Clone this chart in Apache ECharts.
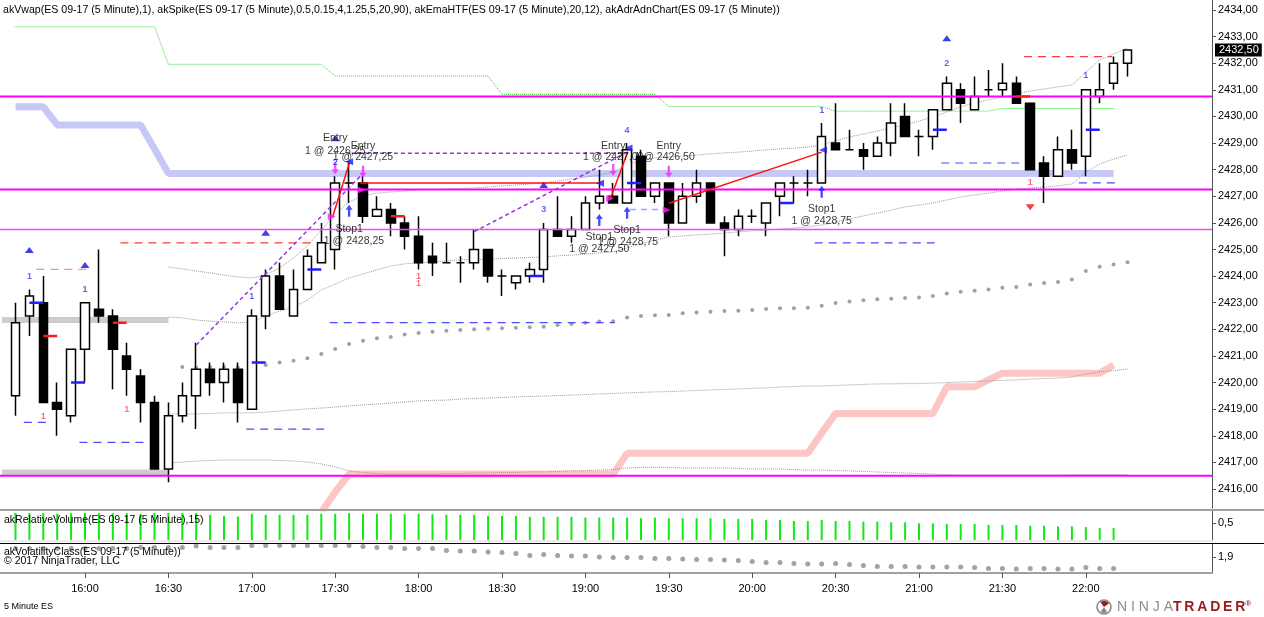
<!DOCTYPE html>
<html>
<head>
<meta charset="utf-8">
<script src="https://cdn.jsdelivr.net/npm/echarts@6.0.0/dist/echarts.min.js"></script>
<style>
html,body{margin:0;padding:0;background:#fff;overflow:hidden}
#chart{width:1264px;height:617px}
</style>
</head>
<body>
<div id="chart"></div>
<script>
// ================= DATA =================
const tickIndex  = [5,11,17,23,29,35,41,47,53,59,65,71,77];
const tickLabels = ['16:00','16:30','17:00','17:30','18:00','18:30','19:00','19:30','20:00','20:30','21:00','21:30','22:00'];
const priceTicks = [2416,2417,2418,2419,2420,2421,2422,2423,2424,2425,2426,2427,2428,2429,2430,2431,2432,2433,2434];

// 5-minute bars 15:35 .. 22:15
const opens = [2419.5,2422.5,2423,2419.25,2418.75,2421.25,2422.75,2422.5,2421,2420.25,
2419.25,2416.75,2418.75,2419.5,2420.5,2420,2420.5,2419,2422.5,2424,
2422.5,2423.5,2424.5,2425,2427.5,2427.5,2426.25,2426.5,2426,2425.5,
2424.75,2424.5,2424.5,2424.5,2425,2424,2423.75,2424,2424.25,2425.75,
2425.5,2425.75,2426.75,2427,2426.75,2428.5,2427,2427.5,2426,2427,
2427.5,2426,2425.75,2426.25,2426,2427,2427.5,2427.5,2427.5,2429,
2428.75,2428.75,2428.5,2429,2430,2429.25,2429.25,2430.25,2431,2430.25,
2431,2431,2431.25,2430.5,2428.25,2427.75,2428.75,2428.5,2430.75,2431.25,
2432];
const closes = [2422.25,2423.25,2419.25,2419,2421.25,2423,2422.5,2421.25,2420.5,2419.25,
2416.75,2418.75,2419.5,2420.5,2420,2420.5,2419.25,2422.5,2424,2422.75,
2423.5,2424.75,2425.25,2427.5,2427.5,2426.25,2426.5,2426,2425.5,2424.5,
2424.5,2424.5,2424.5,2425,2424,2424,2424,2424.25,2425.75,2425.5,
2425.75,2426.75,2427,2426.75,2428.75,2427,2427.5,2426,2427,2427.5,
2426,2425.75,2426.25,2426.25,2426.75,2427.5,2427.5,2427.5,2429.25,2428.75,
2428.75,2428.5,2429,2429.75,2429.25,2429.25,2430.25,2431.25,2430.5,2430.75,
2431,2431.25,2430.5,2428,2427.75,2428.75,2428.25,2431,2431,2432,
2432.5];
const lows = [2418.75,2421.75,2419.25,2418,2418.5,2420,2422.25,2419.75,2419.5,2418.5,
2416.75,2416.25,2418.5,2418.25,2419.5,2419.25,2418.5,2419,2422,2422.75,
2422.5,2423.5,2424.5,2424.25,2426.75,2426,2426.25,2425.5,2425,2424.25,
2424,2424.5,2423.75,2424.25,2423.75,2423.25,2423.5,2423.75,2423.75,2425.5,
2425.25,2425.75,2426.5,2426.75,2426.75,2427,2426.75,2425.5,2426,2426.75,
2426,2424.75,2425.5,2426,2425.5,2426.25,2426.75,2427,2427.5,2428.75,
2428.75,2428,2428.5,2428.5,2429.25,2428.5,2428.75,2430.25,2429.75,2430.25,
2430.75,2430.75,2430.5,2428,2426.75,2427.75,2428,2427.75,2430.5,2431,
2431.5];
const highs = [2423,2423.5,2424,2420,2421.25,2423,2425,2422.75,2421.5,2420.5,
2419.5,2419.25,2420,2421.5,2420.75,2420.75,2420.75,2422.75,2424.25,2424.5,
2424.25,2425,2426,2427.75,2428.25,2427.75,2427,2426.75,2426.25,2426.25,
2425.25,2425.25,2424.75,2425.75,2425,2424.25,2424,2424.5,2426,2427,
2426.25,2427,2428,2427.5,2429,2428.75,2427.5,2427.5,2427.5,2428,
2427.5,2426.25,2426.5,2426.5,2426.75,2427.5,2427.75,2428,2429.75,2430.5,
2429.5,2429,2429.25,2430.5,2430.5,2429.5,2430.25,2431.5,2431.25,2431.5,
2431.75,2432,2431.5,2430.5,2428.5,2429.25,2429.5,2431,2432,2432.25,
2432.5];

// VWAP (dots) from bar 12, std bands from bar 11
const vwapStart = 12;
const vwap = [2420.58,2420.56,2420.58,2420.58,2420.57,2420.56,2420.66,2420.75,2420.82,2420.91,
2421.07,2421.26,2421.45,2421.57,2421.66,2421.71,2421.81,2421.86,2421.91,2421.95,
2421.97,2422.00,2422.02,2422.04,2422.06,2422.08,2422.10,2422.16,2422.20,2422.25,
2422.29,2422.30,2422.44,2422.50,2422.53,2422.54,2422.60,2422.63,2422.66,2422.69,
2422.70,2422.73,2422.76,2422.79,2422.79,2422.81,2422.89,2422.99,2423.05,2423.09,
2423.13,2423.15,2423.18,2423.20,2423.25,2423.35,2423.41,2423.45,2423.50,2423.56,
2423.59,2423.68,2423.74,2423.78,2423.87,2424.19,2424.35,2424.44,2424.52];
const bandStart = 11;
const upper2 = [2424.34,2424.27,2424.19,2424.12,2424.04,2423.97,2423.93,2424.04,2424.31,2424.68,
2425.13,2425.73,2426.33,2426.79,2427.01,2427.12,2427.16,2427.20,2427.24,2427.25,
2427.27,2427.29,2427.31,2427.35,2427.39,2427.42,2427.46,2427.50,2427.57,2427.65,
2427.72,2427.80,2427.91,2428.18,2428.36,2428.44,2428.48,2428.51,2428.55,2428.59,
2428.63,2428.66,2428.70,2428.74,2428.78,2428.81,2428.85,2428.93,2429.08,2429.23,
2429.34,2429.45,2429.57,2429.68,2429.83,2429.98,2430.17,2430.36,2430.51,2430.62,
2430.73,2430.84,2430.96,2431.03,2431.11,2431.18,2431.67,2432.12,2432.35,2432.57];
const upper1 = [2422.46,2422.43,2422.35,2422.31,2422.28,2422.24,2422.28,2422.50,2422.69,2422.84,
2423.10,2423.48,2423.70,2423.93,2424.08,2424.23,2424.38,2424.46,2424.49,2424.53,
2424.57,2424.61,2424.62,2424.64,2424.66,2424.68,2424.70,2424.72,2424.76,2424.79,
2424.83,2424.87,2424.91,2425.06,2425.21,2425.36,2425.47,2425.51,2425.55,2425.58,
2425.62,2425.66,2425.70,2425.73,2425.77,2425.81,2425.85,2425.92,2426.03,2426.15,
2426.26,2426.37,2426.48,2426.60,2426.67,2426.75,2426.86,2426.97,2427.05,2427.12,
2427.20,2427.27,2427.31,2427.35,2427.39,2427.46,2427.91,2428.21,2428.40,2428.55];
const lower1 = [2418.82,2418.82,2418.82,2418.84,2418.86,2418.86,2418.86,2418.89,2418.93,2418.97,
2419.01,2419.04,2419.08,2419.12,2419.16,2419.19,2419.23,2419.27,2419.31,2419.33,
2419.34,2419.38,2419.40,2419.42,2419.44,2419.46,2419.48,2419.49,2419.51,2419.53,
2419.55,2419.57,2419.59,2419.61,2419.63,2419.65,2419.66,2419.68,2419.70,2419.72,
2419.74,2419.76,2419.78,2419.80,2419.83,2419.85,2419.87,2419.87,2419.89,2419.91,
2419.93,2419.95,2419.95,2419.96,2419.96,2419.98,2420.00,2420.02,2420.04,2420.06,
2420.08,2420.10,2420.13,2420.15,2420.17,2420.21,2420.32,2420.40,2420.45,2420.51];
const lower2 = [2416.98,2417.01,2417.05,2417.07,2417.09,2417.09,2417.09,2417.09,2417.07,2417.05,
2417.01,2416.94,2416.83,2416.68,2416.62,2416.58,2416.56,2416.56,2416.56,2416.56,
2416.58,2416.58,2416.60,2416.60,2416.62,2416.62,2416.64,2416.64,2416.66,2416.68,
2416.69,2416.71,2416.73,2416.79,2416.81,2416.81,2416.81,2416.79,2416.79,2416.79,
2416.79,2416.77,2416.75,2416.75,2416.75,2416.73,2416.71,2416.71,2416.69,2416.68,
2416.66,2416.64,2416.62,2416.60,2416.58,2416.56,2416.54,2416.53,2416.53,2416.53,
2416.53,2416.53,2416.53,2416.53,2416.53,2416.54,2416.54,2416.54,2416.54,2416.54];

// higher-timeframe EMAs (bars 0..79)
const emaGreen = [2433.37,2433.37,2433.37,2433.37,2433.37,2433.37,2433.37,2433.37,2433.37,2433.37,
2433.37,2431.96,2431.96,2431.96,2431.96,2431.96,2431.96,2431.96,2431.96,2431.96,
2431.96,2431.96,2431.96,2431.52,2431.52,2431.52,2431.52,2431.52,2431.52,2431.52,
2431.52,2431.52,2431.52,2431.52,2431.52,2430.83,2430.83,2430.83,2430.83,2430.83,
2430.83,2430.83,2430.83,2430.83,2430.83,2430.83,2430.83,2430.37,2430.37,2430.37,
2430.37,2430.37,2430.37,2430.37,2430.37,2430.37,2430.37,2430.37,2430.37,2430.20,
2430.20,2430.20,2430.20,2430.20,2430.20,2430.20,2430.20,2430.20,2430.20,2430.20,
2430.20,2430.30,2430.30,2430.30,2430.30,2430.30,2430.30,2430.30,2430.30,2430.30];
const emaBlue = [2430.36,2430.36,2430.36,2429.68,2429.68,2429.68,2429.68,2429.68,2429.68,2429.68,
2428.78,2427.86,2427.86,2427.86,2427.86,2427.86,2427.86,2427.86,2427.86,2427.86,
2427.86,2427.86,2427.86,2427.86,2427.86,2427.86,2427.86,2427.86,2427.86,2427.86,
2427.86,2427.86,2427.86,2427.86,2427.86,2427.86,2427.86,2427.86,2427.86,2427.86,
2427.86,2427.86,2427.86,2427.86,2427.86,2427.86,2427.86,2427.86,2427.86,2427.86,
2427.86,2427.86,2427.86,2427.86,2427.86,2427.86,2427.86,2427.86,2427.86,2427.86,
2427.86,2427.86,2427.86,2427.86,2427.86,2427.86,2427.86,2427.86,2427.86,2427.86,
2427.86,2427.86,2427.86,2427.86,2427.86,2427.86,2427.86,2427.86,2427.86,2427.86];
// ADR lower line (bars 22..79)
const adrStart = 22;
const adrLow = [2415.13,2415.89,2416.56,2416.56,2416.56,2416.56,2416.56,2416.56,2416.56,2416.56,
2416.56,2416.56,2416.56,2416.56,2416.56,2416.56,2416.56,2416.56,2416.56,2416.56,
2416.56,2416.56,2417.34,2417.34,2417.34,2417.34,2417.34,2417.34,2417.34,2417.34,
2417.34,2417.34,2417.34,2417.34,2417.34,2417.34,2418.10,2418.84,2418.84,2418.84,
2418.84,2418.84,2418.84,2418.84,2418.84,2419.84,2419.84,2419.84,2420.10,2420.35,
2420.35,2420.35,2420.35,2420.35,2420.35,2420.35,2420.35,2420.66];
// prior-session levels (gray bands), horizontal levels (magenta)
const priorLevels = [2422.35, 2416.62];
const priorSpan = [-0.97, 11];
const levelLines = [2430.75, 2427.25, 2425.75, 2416.5];
const levelWidths = [2, 2, 1.5, 2];

// dashed target/stop segments: [fromBar, toBar, price]
const redDashes  = [[1.5,5.4,2424.25],[7.55,21.4,2425.25],[72.55,78.9,2432.25]];
const blueDashes = [[0.6,2.35,2418.5],[4.6,9.4,2417.75],[16.6,22.4,2418.25],[22.6,43.1,2422.25],[57.5,66.3,2425.25],[66.6,72.3,2428.25],[76.5,79.2,2427.5]];
const lilacDashes = [[44.2,46.5,2426.5]];
// short solid marks: [fromBar, toBar, price]
const blueMarks = [[1,2,2423.0],[4,5,2420.0],[17,18,2420.75],[21,22,2424.25],[37,38,2424.0],[44,45,2427.5],[55,56,2426.75],[66,67,2429.5],[77,78,2429.5]];
const redMarks  = [[2,3,2421.75],[7,8,2422.25],[27,28,2426.25],[72,73,2430.75]];
// signal markers
const upTriangles   = [[1,2424.98],[5,2424.42],[18,2425.63],[23,2429.18],[38,2427.42],[67,2432.94]];
const downTriangles = [[73,2426.59]];
const blueCounts = [[1,2424.0,'1'],[5,2423.5,'1'],[17,2423.25,'1'],[23,2428.26,'2'],[38,2426.49,'3'],[44,2429.49,'4'],[58,2430.24,'1'],[67,2432.0,'2'],[77,2431.52,'1']];
const redCounts  = [[2,2418.74,'1'],[8,2418.99,'1'],[29,2423.98,'1'],[29,2423.73,'1'],[73,2427.51,'1']];
// trades
const entryArrows = [[23,2428.05],[25,2427.92],[43,2427.99],[47,2427.92]];
const stopArrows  = [[24,2426.46],[42,2426.11],[44,2426.38],[58,2427.17]];
const fillRight   = [[22.75,2426.23],[24.9,2427.24],[42.77,2426.92],[46.85,2426.48]];
const fillLeft    = [[24,2428.3],[42.05,2427.49],[44.1,2428.81],[58.1,2428.74]];
const tradeLines  = [[[22.8,2426.2],[24.05,2428.3]],[[24.8,2427.5],[42.0,2427.5]],[[42.8,2426.92],[44.05,2428.67]],[[47.0,2426.74],[58.0,2428.66]]];
const swingLines  = [[[13,2421.41],[25,2427.86]],[[24.2,2428.62],[44.0,2428.62]],[[33,2425.67],[44.0,2428.66]]];
const tradeTexts = [
  [23,2429.19,'Entry'],[23,2428.70,'1 @ 2426,25'],
  [25,2428.89,'Entry'],[25,2428.48,'1 @ 2427,25'],
  [24,2425.77,'Stop1'],[24.35,2425.32,'1 @ 2428,25'],
  [43,2428.89,'Entry'],[43,2428.48,'1 @ 2427,00'],
  [47,2428.89,'Entry'],[46.7,2428.48,'1 @ 2426,50'],
  [42,2425.47,'Stop1'],[42,2425.02,'1 @ 2427,50'],
  [44,2425.73,'Stop1'],[44.06,2425.28,'1 @ 2428,75'],
  [58,2426.52,'Stop1'],[58,2426.07,'1 @ 2428,75']
];
// lower panels (bars 0..79)
const relVol = [0.80,0.79,0.79,0.77,0.79,0.79,0.79,0.79,0.79,0.77,
0.79,0.79,0.79,0.79,0.74,0.71,0.69,0.77,0.74,0.74,
0.74,0.74,0.77,0.77,0.79,0.77,0.77,0.77,0.76,0.77,
0.76,0.74,0.74,0.74,0.71,0.71,0.71,0.68,0.68,0.68,
0.68,0.66,0.66,0.66,0.66,0.64,0.66,0.64,0.64,0.64,
0.64,0.62,0.62,0.62,0.59,0.59,0.56,0.56,0.59,0.56,
0.56,0.54,0.54,0.52,0.52,0.49,0.49,0.47,0.47,0.47,
0.44,0.44,0.44,0.42,0.42,0.40,0.40,0.38,0.35,0.35];
const volClass = [2.33,2.33,2.33,2.33,2.33,2.33,2.33,2.33,2.33,2.37,
2.37,2.38,2.38,2.45,2.38,2.38,2.38,2.47,2.47,2.47,
2.47,2.47,2.47,2.47,2.47,2.42,2.38,2.38,2.33,2.33,
2.33,2.22,2.20,2.20,2.15,2.12,2.07,1.98,2.03,1.98,
1.95,1.95,1.90,1.87,1.87,1.87,1.83,1.83,1.80,1.78,
1.78,1.75,1.72,1.67,1.63,1.62,1.58,1.55,1.55,1.57,
1.52,1.47,1.43,1.43,1.43,1.40,1.40,1.40,1.40,1.37,
1.33,1.33,1.30,1.33,1.33,1.30,1.30,1.38,1.33,1.33];

// ================= CHART =================
const FONT = '"Liberation Sans", Arial, sans-serif';
const XMIN = -1.115, XMAX = XMIN + 1212 / 13.9;
const YMAX = 2434.376, YMIN = 2434.376 - 508 / 26.61;
const lastClose = closes[closes.length - 1];
const comma = (v, d) => v.toFixed(d).replace('.', ',');
const series = [];
const idx = (arr, start) => arr.map((v, k) => [start + k, v]);
function line(points, style, z, xi, yi) {
  series.push({type:'line', xAxisIndex: xi || 0, yAxisIndex: yi || 0, data: points, symbol:'none',
    lineStyle: style, z: z, silent: true, clip: true, connectNulls: false});
}
function scatter(points, opt, z) {
  series.push(Object.assign({type:'scatter', xAxisIndex:0, yAxisIndex:0, data: points, silent:true, z: z}, opt));
}

// background bands
priorLevels.forEach(v => line([[priorSpan[0], v], [priorSpan[1], v]], {color:'#cdcdcd', width:6}, 1));
line(idx(emaBlue, 0), {color:'#c8c8f6', width:7}, 1);
line(idx(adrLow, adrStart), {color:'#fdc6c6', width:7}, 1);
line(idx(emaGreen, 0), {color:'#2ee02e', width:1, type:'dotted'}, 2);
[upper2, upper1, lower1, lower2].forEach(a => line(idx(a, bandStart), {color:'#9a9a9a', width:1, type:'dotted'}, 2));
scatter(idx(vwap, vwapStart), {symbol:'circle', symbolSize:4, itemStyle:{color:'#8a8a8a'}}, 2);

// horizontal magenta levels (full width)
levelLines.forEach((v, k) => line([[XMIN, v], [XMAX, v]], {color: k === 2 ? '#f04cf0' : '#ff00ff', width: levelWidths[k]}, 5));

// dashed segments
redDashes.forEach((s, k) => line([[s[0], s[2]], [s[1], s[2]]], {color: k === 0 ? '#ff8c8c' : '#ff3b3b', width:1.2, type:[8,6]}, 3));
blueDashes.forEach(s => line([[s[0], s[2]], [s[1], s[2]]], {color:'#4a4aff', width:1.2, type:[8,6]}, 3));
lilacDashes.forEach(s => line([[s[0], s[2]], [s[1], s[2]]], {color:'#a0a0ff', width:1.5, type:[6,5]}, 3));

// candles
series.push({
  type:'candlestick', xAxisIndex:0, yAxisIndex:0, barWidth:9, z:4, silent:true,
  data: opens.map((o, i) => [i, o, closes[i], lows[i], highs[i]]),
  encode:{x:0, y:[1,2,3,4]},
  itemStyle:{color:'#ffffff', color0:'#000000', borderColor:'#000000', borderColor0:'#000000', borderWidth:1.5}
});

// short marks
blueMarks.forEach(s => line([[s[0], s[2]], [s[1], s[2]]], {color:'#1f1fff', width:2.5}, 5));
redMarks.forEach(s => line([[s[0], s[2]], [s[1], s[2]]], {color:'#ff1a1a', width:2.5}, 5));
// trade connection lines
swingLines.forEach(p => line(p, {color:'#9a33e0', width:1.5, type:[4,3]}, 6));
tradeLines.forEach(p => line(p, {color:'#ff1010', width:1.5}, 6));

// markers
scatter(upTriangles, {symbol:'triangle', symbolSize:[9,6], itemStyle:{color:'#1010e0'}}, 7);
scatter(downTriangles, {symbol:'triangle', symbolRotate:180, symbolSize:[9,6], itemStyle:{color:'#ee1111'}}, 7);
const ARROW = 'path://M3,12 L3,5 L0,5 L4.5,0 L9,5 L6,5 L6,12 Z';
scatter(entryArrows, {symbol:ARROW, symbolRotate:180, symbolSize:[7,12], itemStyle:{color:'#ff22ff'}}, 7);
scatter(stopArrows, {symbol:ARROW, symbolSize:[7,12], itemStyle:{color:'#1a1aff'}}, 7);
scatter(fillRight, {symbol:'triangle', symbolRotate:-90, symbolSize:[7,8], itemStyle:{color:'#ff22ff'}}, 7);
scatter(fillLeft, {symbol:'triangle', symbolRotate:90, symbolSize:[7,8], itemStyle:{color:'#1a1aff'}}, 7);
function textPts(list, color, size, weight) {
  scatter(list.map(t => ({value:[t[0], t[1]], name:t[2]})), {symbolSize:1, itemStyle:{color:'rgba(0,0,0,0)'},
    label:{show:true, position:'inside', formatter:'{b}', color:color, fontSize:size, fontWeight:weight, fontFamily:FONT}}, 8);
}
textPts(blueCounts, '#3a3aff', 9, 'bold');
textPts(redCounts, '#ff4a6a', 9, 'bold');
textPts(tradeTexts, '#000000', 10.5, 'normal');

// lower panels
series.push({type:'bar', xAxisIndex:1, yAxisIndex:1, data: idx(relVol, 0), barWidth:2, itemStyle:{color:'#12e812'}, silent:true, z:2});
series.push({type:'scatter', xAxisIndex:2, yAxisIndex:2, data: idx(volClass, 0), symbolSize:5, itemStyle:{color:'#8c8c8c'}, silent:true, z:2});

const hiddenX = gi => ({type:'value', gridIndex:gi, min:XMIN, max:XMAX, show:false});
const axisLineStyle = {show:true, onZero:false, lineStyle:{color:'#555', width:1}};

const option = {
  animation:false,
  backgroundColor:'#ffffff',
  textStyle:{fontFamily:FONT},
  grid:[
    {left:0, right:52, top:0, height:508, outerBoundsMode:'none', containLabel:false},
    {left:0, right:52, top:511, height:29, outerBoundsMode:'none', containLabel:false},
    {left:0, right:52, top:543, height:30, outerBoundsMode:'none', containLabel:false}
  ],
  xAxis:[
    hiddenX(0), hiddenX(1),
    {type:'value', gridIndex:2, min:XMIN, max:XMAX,
      axisLine:{show:true, onZero:false, lineStyle:{color:'#a0a0a0', width:2}},
      axisTick:{show:true, customValues:tickIndex, length:5, lineStyle:{color:'#555'}},
      axisLabel:{show:true, customValues:tickIndex, margin:10, color:'#000', fontSize:11, fontFamily:FONT,
        formatter: v => tickLabels[tickIndex.indexOf(Math.round(v))] || ''},
      splitLine:{show:false}}
  ],
  yAxis:[
    {type:'value', gridIndex:0, position:'right', min:YMIN, max:YMAX,
      axisLine:axisLineStyle,
      axisTick:{show:true, customValues:priceTicks, length:4, lineStyle:{color:'#555'}},
      axisLabel:{show:true, customValues:priceTicks, margin:6, color:'#000', fontSize:11, fontFamily:FONT, formatter: v => comma(v, 2)},
      splitLine:{show:false}},
    {type:'value', gridIndex:1, position:'right', min:0, max:29/34,
      axisLine:axisLineStyle,
      axisTick:{show:true, customValues:[0.5], length:4, lineStyle:{color:'#555'}},
      axisLabel:{show:true, customValues:[0.5], margin:6, color:'#000', fontSize:11, fontFamily:FONT, formatter: v => comma(v, 1)},
      splitLine:{show:false}},
    {type:'value', gridIndex:2, position:'right', min:1.1, max:2.6,
      axisLine:axisLineStyle,
      axisTick:{show:true, customValues:[1.9], length:4, lineStyle:{color:'#555'}},
      axisLabel:{show:true, customValues:[1.9], margin:6, color:'#000', fontSize:11, fontFamily:FONT, formatter: v => comma(v, 1)},
      splitLine:{show:false}},
    // current price marker
    {type:'value', gridIndex:0, position:'right', min:YMIN, max:YMAX,
      axisLine:{show:false, onZero:false}, axisTick:{show:false}, splitLine:{show:false},
      axisLabel:{show:true, customValues:[lastClose], margin:3, color:'#fff', backgroundColor:'#000',
        padding:[1,3,1,4], fontSize:11, fontFamily:FONT, formatter: v => comma(v, 2)}}
  ],
  graphic:[
    {type:'line', shape:{x1:0, y1:510, x2:1264, y2:510}, style:{stroke:'#a0a0a0', lineWidth:2}, z:10},
    {type:'line', shape:{x1:0, y1:541, x2:1212, y2:541}, style:{stroke:'#d4d4d4', lineWidth:1}, z:10},
    {type:'line', shape:{x1:0, y1:543.5, x2:1264, y2:543.5}, style:{stroke:'#000', lineWidth:1}, z:10},
    {type:'text', x:3, y:10, z:20, style:{text:'akVwap(ES 09-17 (5 Minute),1), akSpike(ES 09-17 (5 Minute),0.5,0.15,4,1.25,5,20,90), akEmaHTF(ES 09-17 (5 Minute),20,12), akAdrAdnChart(ES 09-17 (5 Minute))',
      fill:'#000', font:'10.6px ' + FONT, verticalAlign:'middle'}},
    {type:'text', x:4, y:520, z:20, style:{text:'akRelativeVolume(ES 09-17 (5 Minute),15)', fill:'#000', font:'10.5px ' + FONT, verticalAlign:'middle'}},
    {type:'text', x:4, y:552, z:20, style:{text:'akVolatilityClass(ES 09-17 (5 Minute))', fill:'#000', font:'10.5px ' + FONT, verticalAlign:'middle'}},
    {type:'text', x:4, y:561, z:20, style:{text:'\u00a9 2017 NinjaTrader, LLC', fill:'#000', font:'10.5px ' + FONT, verticalAlign:'middle'}},
    {type:'text', x:4, y:607, z:20, style:{text:'5 Minute ES', fill:'#000', font:'9px ' + FONT, verticalAlign:'middle'}},
    {type:'group', x:1096, y:600, z:20, children:[
      {type:'circle', shape:{cx:8, cy:7, r:7}, style:{fill:'#fff', stroke:'#8a8a8a', lineWidth:1.6}},
      {type:'sector', shape:{cx:8, cy:7, r0:0, r:6, startAngle:-2.2, endAngle:-0.6}, style:{fill:'#a01c1c'}},
      {type:'sector', shape:{cx:8, cy:7, r0:0, r:6, startAngle:1.0, endAngle:2.2}, style:{fill:'#8a8a8a'}},
      {type:'text', x:21, y:7, style:{text:'{a|N I N J A}{b|T\u2009R\u2009A\u2009D\u2009E\u2009R}{c|\u00ae}', verticalAlign:'middle',
        rich:{a:{fill:'#8d8d8d', font:'14px ' + FONT}, b:{fill:'#9a1d1d', font:'bold 14px ' + FONT}, c:{fill:'#9a1d1d', font:'bold 8px ' + FONT, verticalAlign:'top'}}}}
    ]}
  ],
  series: series
};

const chart = echarts.init(document.getElementById('chart'), null, {renderer:'canvas'});
chart.setOption(option);
</script>
</body>
</html>
